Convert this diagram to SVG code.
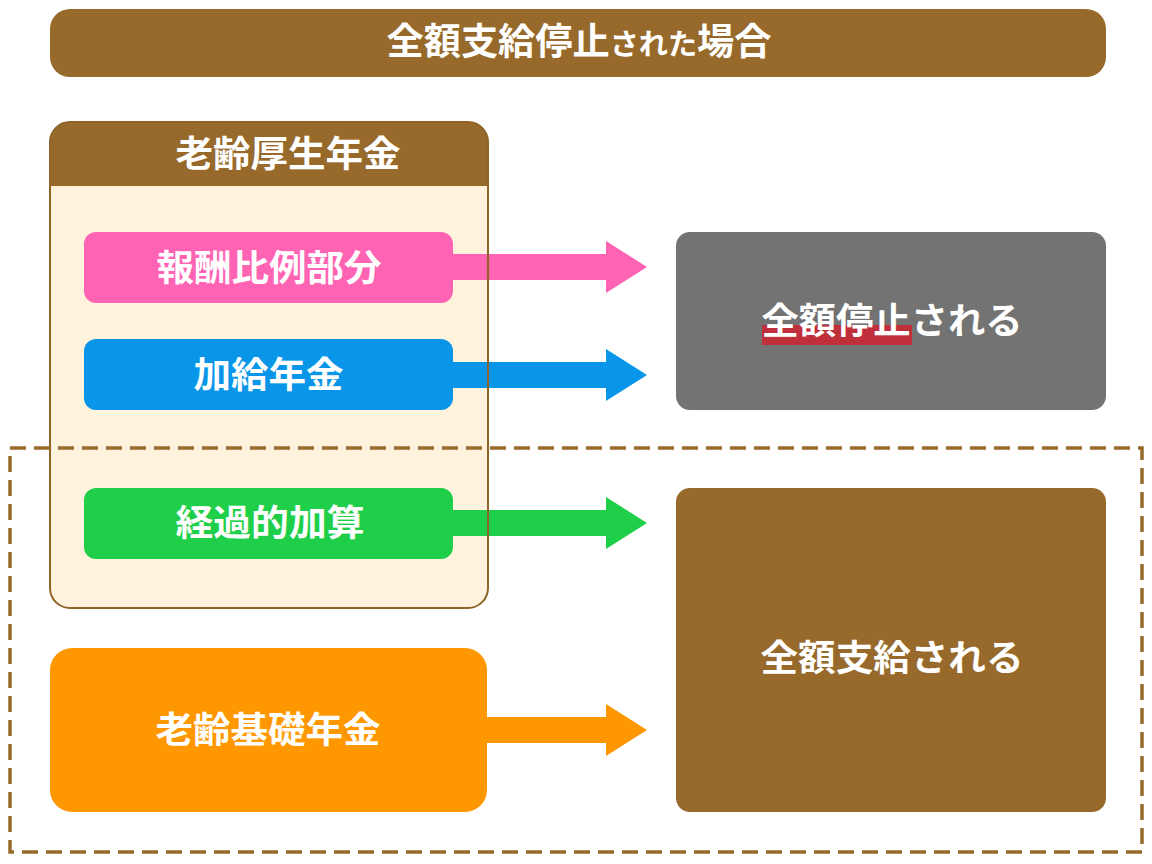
<svg xmlns="http://www.w3.org/2000/svg" width="1152" height="864" viewBox="0 0 1152 864">
<style>
  text { font-family: "Noto Sans CJK JP", "Noto Sans", sans-serif; font-weight: bold; fill: #ffffff; text-anchor: middle; }
  .t36 { font-size: 36px; }
  .brown { fill: #976A2B; }
</style>
<defs>
  <path id="arrowShape" d="M0,-13 L153,-13 L153,-26 L194,0 L153,26 L153,13 L0,13 Z"/>
</defs>
<rect width="1152" height="864" fill="#ffffff"/>

<g id="title">
  <rect x="50" y="9" width="1056" height="68" rx="20" class="brown"/>
  <text x="579" y="55" style="font-size:37px" textLength="385" lengthAdjust="spacingAndGlyphs">全額支給停止<tspan style="font-size:29px">された</tspan>場合</text>
</g>

<g id="kosei-card">
  <rect x="50" y="122" width="438" height="486" rx="20" fill="#FFF3DE"/>
  <path d="M50,186 L50,142 A20,20 0 0 1 70,122 L468,122 A20,20 0 0 1 488,142 L488,186 Z" class="brown"/>
  <text x="288" y="167" class="t36" textLength="225" lengthAdjust="spacingAndGlyphs">老齢厚生年金</text>
</g>

<g id="connectors">
  <use href="#arrowShape" x="453" y="267" fill="#FF64B4"/>
  <use href="#arrowShape" x="453" y="375" fill="#0A96E8"/>
  <use href="#arrowShape" x="453" y="523" fill="#1FCF49"/>
  <use href="#arrowShape" x="453" y="730" fill="#FF9800"/>
</g>

<rect x="50" y="122" width="438" height="486" rx="20" fill="none" stroke="#8E6428" stroke-width="2"/>

<g id="hoshu">
  <rect x="84" y="232" width="369" height="71" rx="12" fill="#FF64B4"/>
  <text x="269" y="281" class="t36" textLength="225" lengthAdjust="spacingAndGlyphs">報酬比例部分</text>
</g>
<g id="kakyu">
  <rect x="84" y="339" width="369" height="71" rx="12" fill="#0A96E8"/>
  <text x="268.5" y="388" class="t36" textLength="150" lengthAdjust="spacingAndGlyphs">加給年金</text>
</g>
<g id="keika">
  <rect x="84" y="488" width="369" height="71" rx="12" fill="#1FCF49"/>
  <text x="270" y="536" class="t36" textLength="189" lengthAdjust="spacingAndGlyphs">経過的加算</text>
</g>
<g id="kiso">
  <rect x="50" y="648" width="437" height="164" rx="22" fill="#FF9800"/>
  <text x="268" y="743" class="t36" textLength="225" lengthAdjust="spacingAndGlyphs">老齢基礎年金</text>
</g>

<g id="teishi">
  <rect x="676" y="232" width="430" height="178" rx="14" fill="#737373"/>
  <rect x="762" y="325" width="150" height="20" fill="#C0303B"/>
  <text x="892" y="334" class="t36" textLength="261" lengthAdjust="spacingAndGlyphs">全額停止される</text>
</g>
<g id="shikyu">
  <rect x="676" y="488" width="430" height="324" rx="14" class="brown"/>
  <text x="892" y="671" class="t36" textLength="263" lengthAdjust="spacingAndGlyphs">全額支給される</text>
</g>

<g id="dashed-frame">
  <rect x="10" y="448" width="1132" height="404" fill="none" stroke="#976A2B" stroke-width="3.5" stroke-dasharray="16 8"/>
</g>
</svg>
